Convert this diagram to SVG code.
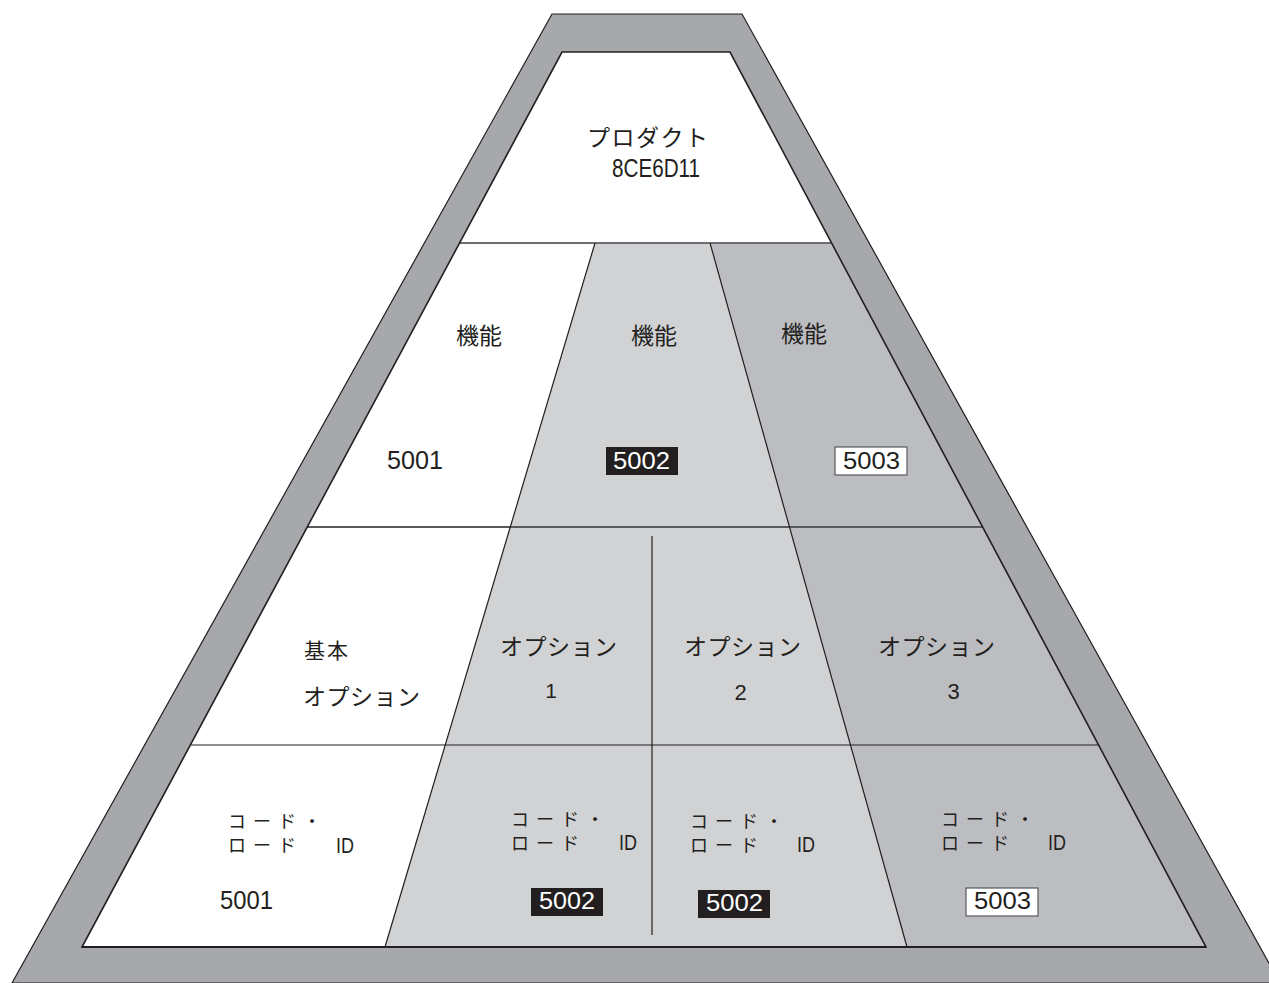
<svg xmlns="http://www.w3.org/2000/svg" width="1269" height="983" viewBox="0 0 1269 983">
<style>
.jp{font-family:"Noto Sans CJK JP","Noto Sans",sans-serif;fill:#231f20}
.num{font-family:"Liberation Sans",Arial,sans-serif;fill:#231f20}
.k{font-size:23px}
.opt{font-size:23px;letter-spacing:0.5px}
.code{font-size:18px;letter-spacing:7px}
.id{font-size:22px}
.n{font-size:25px}
.bx{font-size:24px}
.inv{fill:#ffffff}
.div{stroke:#231f20;stroke-width:1.2;fill:none}
</style>
<rect width="1269" height="983" fill="#ffffff"/>
<g id="frame">
<polygon points="552,14 742,14 1280,983 12,983" fill="#a7a8ab" stroke="#231f20" stroke-width="1.2"/>
</g>
<g id="product">
<polygon points="562,52 730,52 831.6,243 459.6,243" fill="#ffffff"/>
<text class="jp" x="587" y="146" font-size="23" letter-spacing="1.5">プロダクト</text>
<text class="num" x="612" y="177" font-size="25" textLength="88" lengthAdjust="spacingAndGlyphs">8CE6D11</text>
</g>
<g id="column-base">
<polygon points="459.6,243 595,243 385,947 82,947" fill="#ffffff"/>
</g>
<g id="column-light">
<polygon points="595,243 710,243 907,947 385,947" fill="#d1d2d4"/>
</g>
<g id="column-dark">
<polygon points="710,243 831.6,243 1206,947 907,947" fill="#bcbdc1"/>
</g>
<g id="connectors">
<line x1="459.6" y1="243" x2="831.6" y2="243" stroke="#6d6e71" stroke-width="2"/>
<line x1="307" y1="527" x2="983" y2="527" stroke="#58595b" stroke-width="2"/>
<line x1="191" y1="745" x2="1099" y2="745" stroke="#231f20" stroke-width="1.2"/>
<line class="div" x1="595" y1="243" x2="385" y2="947"/>
<line class="div" x1="710" y1="243" x2="907" y2="947"/>
<line class="div" x1="652" y1="536" x2="652" y2="935"/>
<polygon points="562,52 730,52 1206,947 82,947" fill="none" stroke="#231f20" stroke-width="1.6"/>
<line x1="82" y1="947" x2="1206" y2="947" stroke="#231f20" stroke-width="2.2"/>
</g>
<g id="feature-5001">
<text class="jp k" x="456" y="344">機能</text>
<text class="num n" x="387" y="469" textLength="56" lengthAdjust="spacingAndGlyphs">5001</text>
</g>
<g id="feature-5002">
<text class="jp k" x="631" y="344">機能</text>
<rect x="606" y="447" width="72" height="28" fill="#231f20"/>
<text class="num bx inv" x="613" y="469" textLength="57" lengthAdjust="spacingAndGlyphs">5002</text>
</g>
<g id="feature-5003">
<text class="jp k" x="781" y="342">機能</text>
<rect x="835" y="447" width="72" height="28" fill="#ffffff" stroke="#58595b" stroke-width="1.2"/>
<text class="num bx" x="843" y="469" textLength="57" lengthAdjust="spacingAndGlyphs">5003</text>
</g>
<g id="option-base">
<text class="jp" x="304" y="658" font-size="21" letter-spacing="2">基本</text>
<text class="jp opt" x="303" y="705">オプション</text>
</g>
<g id="option-1">
<text class="jp opt" x="500" y="655">オプション</text>
<text class="num" x="551" y="698" font-size="21" text-anchor="middle">1</text>
</g>
<g id="option-2">
<text class="jp opt" x="684" y="655">オプション</text>
<text class="num" x="740.5" y="700" font-size="22" text-anchor="middle">2</text>
</g>
<g id="option-3">
<text class="jp opt" x="878" y="655">オプション</text>
<text class="num" x="953.5" y="699" font-size="22" text-anchor="middle">3</text>
</g>
<g id="load-base">
<text class="jp code" x="228" y="828">コード・</text>
<text class="jp code" x="228" y="852">ロード</text>
<text class="num id" x="336" y="853" textLength="18" lengthAdjust="spacingAndGlyphs">ID</text>
<text class="num n" x="220" y="909" textLength="53" lengthAdjust="spacingAndGlyphs">5001</text>
</g>
<g id="load-option-1">
<text class="jp code" x="511" y="826">コード・</text>
<text class="jp code" x="511" y="850">ロード</text>
<text class="num id" x="619" y="850" textLength="18" lengthAdjust="spacingAndGlyphs">ID</text>
<rect x="531" y="888" width="72" height="28" fill="#231f20"/>
<text class="num bx inv" x="539" y="909" textLength="56" lengthAdjust="spacingAndGlyphs">5002</text>
</g>
<g id="load-option-2">
<text class="jp code" x="690" y="828">コード・</text>
<text class="jp code" x="690" y="852">ロード</text>
<text class="num id" x="797" y="852" textLength="18" lengthAdjust="spacingAndGlyphs">ID</text>
<rect x="698" y="890" width="72" height="28" fill="#231f20"/>
<text class="num bx inv" x="706" y="911" textLength="57" lengthAdjust="spacingAndGlyphs">5002</text>
</g>
<g id="load-option-3">
<text class="jp code" x="941" y="826">コード・</text>
<text class="jp code" x="941" y="850">ロード</text>
<text class="num id" x="1048" y="850" textLength="18" lengthAdjust="spacingAndGlyphs">ID</text>
<rect x="966" y="888" width="72" height="28" fill="#ffffff" stroke="#58595b" stroke-width="1.2"/>
<text class="num bx" x="974" y="909" textLength="57" lengthAdjust="spacingAndGlyphs">5003</text>
</g>
</svg>
